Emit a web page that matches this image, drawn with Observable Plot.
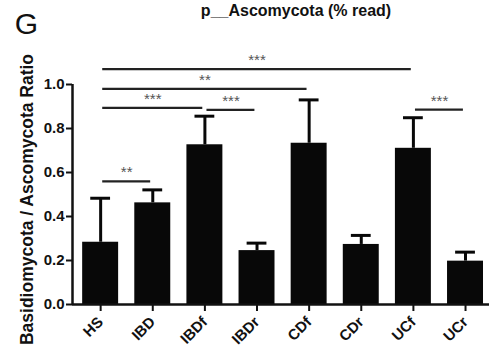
<!DOCTYPE html>
<html><head><meta charset="utf-8">
<script src="https://cdn.jsdelivr.net/npm/d3@7"></script>
<script src="https://cdn.jsdelivr.net/npm/@observablehq/plot@0.6"></script>
<style>body{margin:0;background:#fff} svg{display:block}</style>
</head><body><div id="chart"></div>
<script>
const categories = ["HS", "IBD", "IBDf", "IBDr", "CDf", "CDr", "UCf", "UCr"];
const means = [0.283, 0.462, 0.726, 0.245, 0.733, 0.273, 0.710, 0.197];
const sems = [0.200, 0.059, 0.130, 0.034, 0.197, 0.041, 0.139, 0.041];
const compFrom = ["HS", "HS", "HS", "IBDf", "UCf", "HS"];
const compTo = ["UCf", "CDf", "IBDf", "IBDr", "UCr", "IBD"];
const compLevel = [1.07, 0.98, 0.894, 0.885, 0.886, 0.56];
const compLabel = ["***", "**", "***", "***", "***", "**"];
const yTicks = [0, 0.2, 0.4, 0.6, 0.8, 1.0];
const titleText = "p__Ascomycota (% read)";
const panelText = "G";
const yLabelText = "Basidiomycota / Ascomycota Ratio";

const xDomain = [-0.54, 7.46];
const halfBar = 0.345, halfCap = 0.19;
const bars = categories.map((c, i) => ({
  i, c, mean: means[i], top: means[i] + sems[i],
  x1: i - halfBar, x2: i + halfBar, c1: i - halfCap, c2: i + halfCap
}));
const idx = c => categories.indexOf(c);
const comps = compFrom.map((f, k) => {
  const a = idx(f), b = idx(compTo[k]);
  return {x1: a + 0.03, x2: b - 0.05, mid: (a + b) / 2, level: compLevel[k], label: compLabel[k]};
});

const font = "'Liberation Sans', Arial, Helvetica, sans-serif";
const plot = Plot.plot({
  width: 489, height: 347,
  marginLeft: 72, marginRight: 0, marginTop: 84, marginBottom: 43,
  style: {fontFamily: font, background: "#fff", color: "#111", overflow: "visible"},
  x: {domain: xDomain, axis: null},
  y: {domain: [0, 1], axis: null},
  marks: [
    Plot.rect(bars, {x1: "x1", x2: "x2", y1: 0, y2: "mean", fill: "#080808"}),
    Plot.ruleX(bars, {x: "i", y1: "mean", y2: "top", strokeWidth: 3, stroke: "#080808"}),
    Plot.ruleY(bars, {x1: "c1", x2: "c2", y: "top", strokeWidth: 3, stroke: "#080808"}),
    Plot.ruleY([0], {strokeWidth: 2.5, stroke: "#111"}),
    Plot.ruleX([xDomain[0]], {y1: 0, y2: 1, strokeWidth: 2.5, stroke: "#111"}),
    Plot.axisY({ticks: yTicks, tickFormat: d3.format(".1f"), tickSize: 6, tickPadding: 2,
      fontSize: 15, fontWeight: "bold", strokeWidth: 2, label: null}),
    Plot.axisX({ticks: d3.range(categories.length), tickFormat: i => categories[i], tickRotate: -45,
      tickSize: 7, tickPadding: 8, fontSize: 15, fontWeight: "bold", strokeWidth: 2, label: null}),
    Plot.link(comps, {x1: "x1", x2: "x2", y1: "level", y2: "level", strokeWidth: 2.2, stroke: "#222"}),
    Plot.text(comps, {x: "mid", y: "level", text: "label", lineAnchor: "bottom", dy: -4, fontSize: 15, fill: "#555"}),
    Plot.text([titleText], {frameAnchor: "top", dx: 15, dy: -74, lineAnchor: "middle", fontSize: 16, fontWeight: "bold"}),
    Plot.text([panelText], {frameAnchor: "top-left", textAnchor: "middle", dx: -46, dy: -60, lineAnchor: "middle", fontSize: 30}),
    Plot.text([yLabelText], {frameAnchor: "left", rotate: -90, textAnchor: "middle", dx: -45, dy: 5, lineAnchor: "middle", fontSize: 17.5, fontWeight: "bold"})
  ]
});
document.getElementById("chart").appendChild(plot);
</script>
</body></html>
